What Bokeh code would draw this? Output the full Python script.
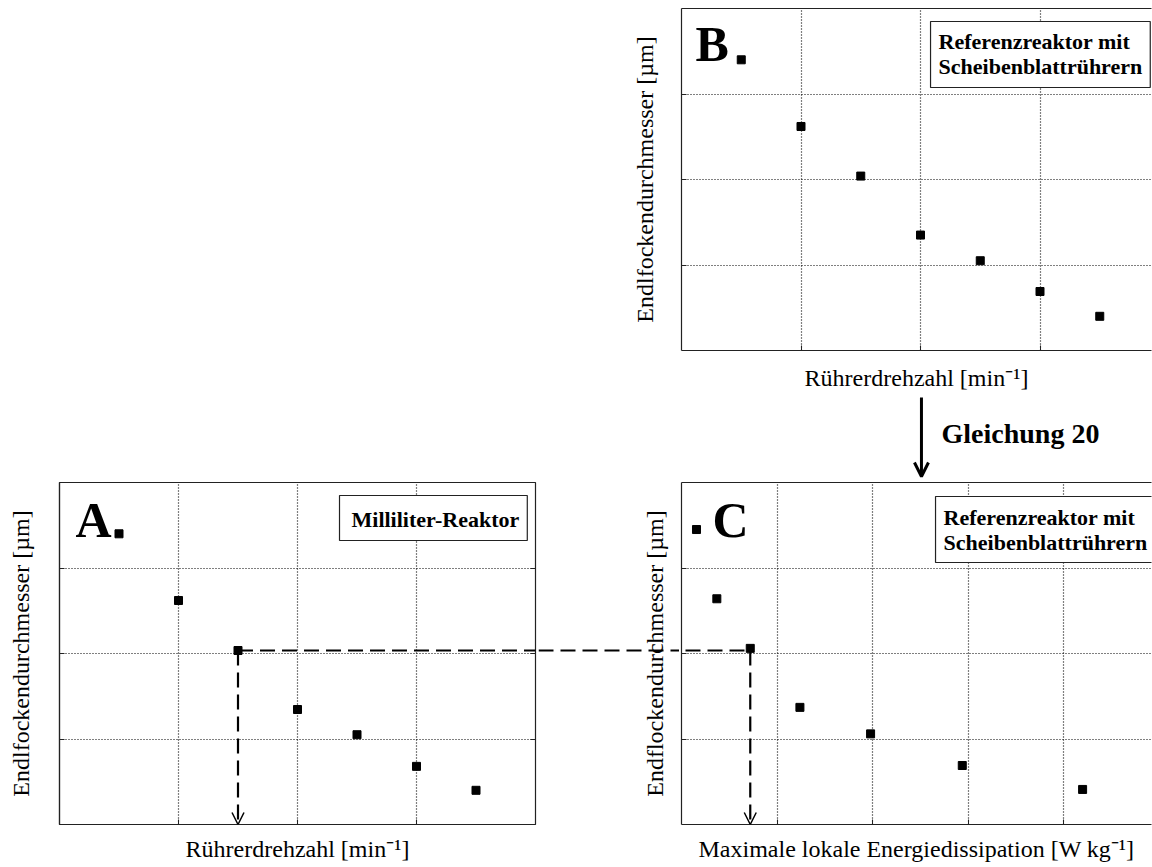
import math
from bokeh.plotting import figure
from bokeh.layouts import column, row
from bokeh.models import (Arrow, OpenHead, Label, FixedTicker, LinearAxis, Range1d,
                          Spacer, Span)
from bokeh.embed import file_html
from bokeh.resources import INLINE

# ---------------- data (grid units, no tick labels in the original) ----------------
A_x = [1.0, 1.5, 2.0, 2.5, 3.0, 3.5]
A_y = [2.62, 2.035, 1.345, 1.05, 0.68, 0.40]

B_x = [1.0, 1.5, 2.0, 2.5, 3.0, 3.5]
B_y = [2.62, 2.04, 1.35, 1.05, 0.69, 0.40]

C_x = [0.37, 0.72, 1.24, 1.98, 2.94, 4.20]
C_y = [2.64, 2.06, 1.37, 1.06, 0.69, 0.41]

A_xticks = [1, 2, 3]
B_xticks = [1, 2, 3]
C_xticks = [1, 2, 3, 4]
y_ticks = [1, 2, 3]

FONT = "Liberation Serif"
YLAB_AB = "Endlfockendurchmesser [µm]"
YLAB_C = "Endflockendurchmesser [µm]"
XLAB_N = "Rührerdrehzahl [min⁻¹]"
XLAB_E = "Maximale lokale Energiedissipation [W kg⁻¹]"

AXC = "#222222"
Y_RANGE_BOTTOM = Range1d(0, 4)   # shared by A, bridge and C


def make_panel(width, height, x_range, y_range, xticks, bl, br, bt, bb, ylabel, xlabel,
               full_box, y_standoff, x_standoff):
    p = figure(width=width, height=height, x_range=x_range, y_range=y_range,
               output_backend="svg", toolbar_location=None,
               min_border_left=bl, min_border_right=br, min_border_top=bt,
               min_border_bottom=bb)
    p.background_fill_color = "white"
    p.border_fill_color = "white"
    for ax, ticks, lab, so in ((p.xaxis[0], xticks, xlabel, x_standoff),
                               (p.yaxis[0], y_ticks, ylabel, y_standoff)):
        ax.ticker = FixedTicker(ticks=ticks)
        ax.major_label_text_font_size = "1px"
        ax.major_label_text_color = None
        ax.major_label_standoff = 0
        ax.minor_tick_line_color = None
        ax.major_tick_in = 5
        ax.major_tick_out = 0
        ax.major_tick_line_color = AXC
        ax.axis_line_color = AXC
        ax.axis_line_width = 1.2
        if lab:
            ax.axis_label = lab
        ax.axis_label_text_font = FONT
        ax.axis_label_text_font_style = "normal"
        ax.axis_label_text_font_size = "24px"
        ax.axis_label_text_color = "black"
        ax.axis_label_standoff = so
    for g in (p.xgrid[0], p.ygrid[0]):
        g.grid_line_color = "black"
        g.grid_line_dash = "1 2"
        g.grid_line_width = 1.2
        g.grid_line_alpha = 1
    if full_box:
        p.outline_line_color = AXC
        p.outline_line_width = 1.2
        p.outline_line_alpha = 1
        right = LinearAxis(ticker=FixedTicker(ticks=y_ticks), major_label_text_font_size="1px",
                           major_label_text_color=None, major_label_standoff=0,
                           major_tick_in=5, major_tick_out=0, major_tick_line_color=AXC,
                           minor_tick_line_color=None, axis_line_color=None)
        p.add_layout(right, "right")
    else:
        p.outline_line_color = None
        top = LinearAxis(ticker=FixedTicker(ticks=[]), major_label_text_font_size="1px",
                         major_label_text_color=None,
                         major_label_standoff=0, major_tick_line_color=None,
                         minor_tick_line_color=None, axis_line_color=AXC,
                         axis_line_width=1.2)
        p.add_layout(top, "above")
    return p


def blank_panel(width, height, x_range, y_range, bl, br, bt, bb):
    p = figure(width=width, height=height, x_range=x_range, y_range=y_range,
               output_backend="svg", toolbar_location=None,
               x_axis_location=None, y_axis_location=None,
               min_border_left=bl, min_border_right=br, min_border_top=bt,
               min_border_bottom=bb)
    p.grid.visible = False
    p.outline_line_color = None
    p.background_fill_color = "white"
    p.border_fill_color = "white"
    return p


def big_letter(p, text, x, y):
    p.add_layout(Label(x=x, y=y, text=text, text_font=FONT, text_font_size="50px",
                       text_font_style="bold", text_color="black",
                       text_align="left", text_baseline="middle"))


def box_label(p, text, x, y, pad):
    p.add_layout(Label(x=x, y=y, text=text, text_font=FONT, text_font_size="22px",
                       text_font_style="bold", text_color="black",
                       text_align="left", text_baseline="top",
                       border_line_color=AXC, border_line_width=1.2,
                       background_fill_color="white", padding=pad,
                       text_line_height=1.0))


dash = "15 7"

# ---------------- panel B (top right) ----------------
B_xr = Range1d(0, 470 / 119.5)
pB = make_panel(544, 396, B_xr, Range1d(0, 4), B_xticks, 73, 1, 8, 46,
                YLAB_AB, XLAB_N, False, 24, 14)
pB.scatter(B_x, B_y, marker="square", size=8, color="black")
pB.scatter([0.50], [3.40], marker="square", size=8, color="black")
big_letter(pB, "B", 0.117, 3.59)
box_label(pB, "Referenzreaktor mit\nScheibenblattrührern", 2.084, 3.848, 8)

# ---------------- connector strip with the "Gleichung 20" arrow ----------------
pM = blank_panel(544, 83, B_xr, Range1d(0, 83), 73, 1, 0, 0)
pM.add_layout(Arrow(x_start=2.008, y_start=82, x_end=2.008, y_end=3,
                    line_width=3, line_color="black",
                    end=OpenHead(size=14, line_width=3, line_color="black")))
pM.add_layout(Label(x=2.176, y=46.5, text="Gleichung 20", text_font=FONT,
                    text_font_size="28px", text_font_style="bold", text_color="black",
                    text_baseline="middle", text_align="left"))

# ---------------- panel A (bottom left) ----------------
pA = make_panel(538, 388, Range1d(0, 476 / 119.0), Y_RANGE_BOTTOM, A_xticks,
                59, 3, 3, 43, YLAB_AB, XLAB_N, True, 26, 11)
pA.scatter(A_x, A_y, marker="square", size=8, color="black")
pA.scatter([0.50], [3.40], marker="square", size=8, color="black")
big_letter(pA, "A", 0.134, 3.567)
box_label(pA, "Milliliter-Reaktor", 2.353, 3.848, (12, 8, 12, 8))
pA.add_layout(Arrow(x_start=A_x[1], y_start=A_y[1], x_end=20, y_end=A_y[1],
                    line_width=2.2, line_color="black", line_dash=dash, end=None))
pA.add_layout(Arrow(x_start=A_x[1], y_start=A_y[1], x_end=A_x[1], y_end=0,
                    line_width=2.2, line_color="black", line_dash=dash,
                    end=OpenHead(size=12, line_width=1.5, line_color="black")))

# ---------------- bridge between A and C (carries C's y label) ----------------
pX = blank_panel(141, 388, Range1d(0, 141), Y_RANGE_BOTTOM, 0, 0, 3, 43)
pX.add_layout(Label(x=116, y=2.0, text=YLAB_C, text_font=FONT, text_font_size="24px",
                    angle=math.pi / 2, text_align="center", text_baseline="middle",
                    text_color="black"))
pX.add_layout(Span(location=A_y[1], dimension="width", line_color="black",
                   line_width=2.2, line_dash=dash))

# ---------------- panel C (bottom right) ----------------
pC = make_panel(473, 388, Range1d(0, 470 / 95.5), Y_RANGE_BOTTOM, C_xticks,
                2, 1, 3, 43, None, XLAB_E, False, 0, 11)
pC.scatter(C_x, C_y, marker="square", size=8, color="black")
pC.scatter([0.157], [3.45], marker="square", size=8, color="black")
big_letter(pC, "C", 0.325, 3.567)
box_label(pC, "Referenzreaktor mit\nScheibenblattrührern", 2.66, 3.836, 8)
pC.add_layout(Arrow(x_start=-20, y_start=A_y[1], x_end=C_x[1], y_end=A_y[1],
                    line_width=2.2, line_color="black", line_dash=dash, end=None))
pC.add_layout(Arrow(x_start=C_x[1], y_start=A_y[1], x_end=C_x[1], y_end=0,
                    line_width=2.2, line_color="black", line_dash=dash,
                    end=OpenHead(size=12, line_width=1.5, line_color="black")))

layout = column(row(Spacer(width=608, height=396), pB, spacing=0),
                row(Spacer(width=608, height=83), pM, spacing=0),
                row(pA, pX, pC, spacing=0), spacing=0)

open("out.html", "w").write(file_html(layout, INLINE))
